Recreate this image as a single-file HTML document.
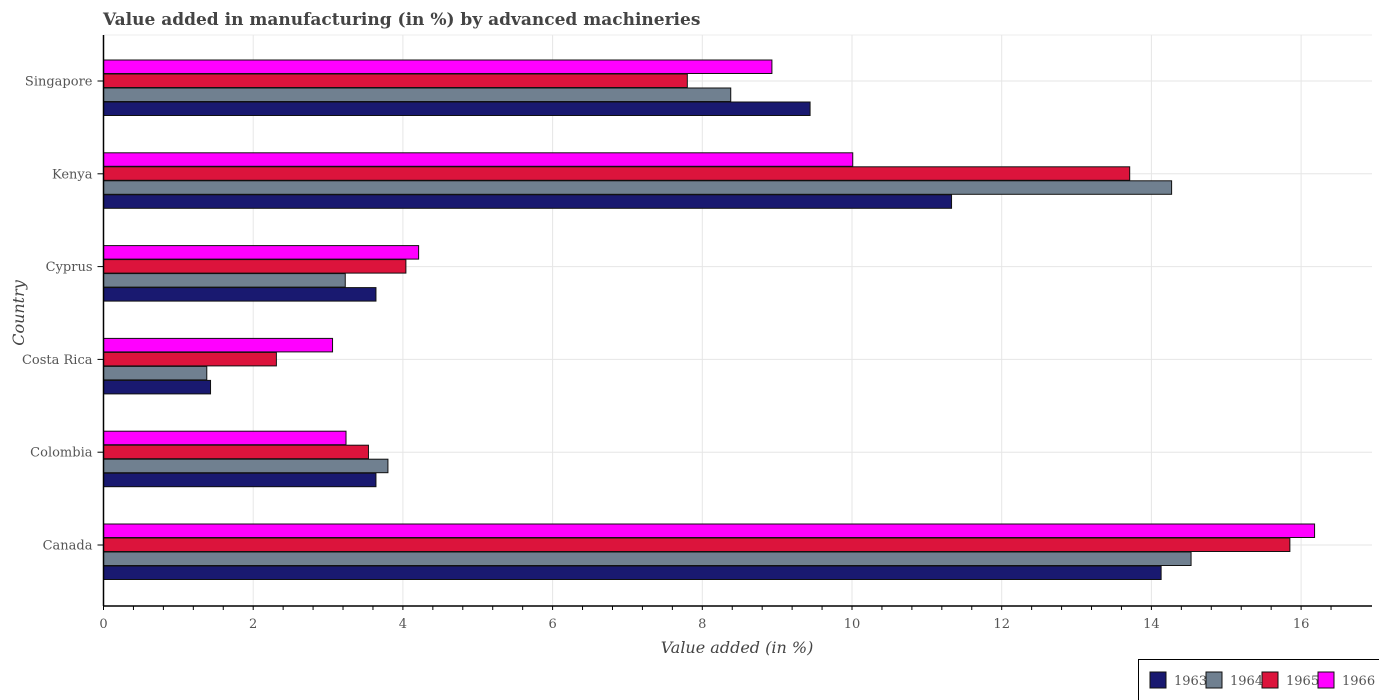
<!DOCTYPE html>
<html><head><meta charset="utf-8"><style>
body{margin:0;background:#fff;}
svg{display:block;font-family:"DejaVu Serif","Liberation Serif",serif;}
</style></head><body>
<svg id="chart" width="1379" height="700">
<text x="103" y="25" font-size="17" font-weight="bold" fill="#444">Value added in manufacturing (in %) by advanced machineries</text>
<g id="grid"></g>
<g id="bars"></g>
<g id="axes"></g>
<text x="737" y="653" font-size="16" font-style="italic" fill="#444" text-anchor="middle">Value added (in %)</text>
<text transform="translate(24,313) rotate(-90)" font-size="16" font-style="italic" fill="#444" text-anchor="middle">Country</text>
<g>
<rect x="1138.5" y="659.5" width="245" height="45" fill="#fff" stroke="#000" stroke-width="1"/>
<g id="legend"></g>
</g>
</svg>
<script>
const categories=["Singapore","Kenya","Cyprus","Costa Rica","Colombia","Canada"];
const years=["1966","1965","1964","1963"];
const s1966=[8.93,10.01,4.21,3.06,3.24,16.18];
const s1965=[7.80,13.71,4.04,2.31,3.54,15.85];
const s1964=[8.38,14.27,3.23,1.38,3.80,14.53];
const s1963=[9.44,11.33,3.64,1.43,3.64,14.13];
const xTicks=[0,2,4,6,8,10,12,14,16];
const colors={"1963":"#191970","1964":"#708090","1965":"#dc143c","1966":"#ff00ff"};
const NS="http://www.w3.org/2000/svg";
const X0=103.5,XS=74.85,PT=35,AXY=606,XR=1372;
const xs=v=>X0+v*XS;
const yc=i=>81+i*92.8;
function mk(t,a,p){const e=document.createElementNS(NS,t);for(const k in a)e.setAttribute(k,a[k]);p.appendChild(e);return e;}
const grid=document.getElementById('grid'),bars=document.getElementById('bars'),axes=document.getElementById('axes'),leg=document.getElementById('legend');
mk('line',{x1:X0,y1:PT,x2:XR,y2:PT,stroke:'#eee'},grid);
xTicks.forEach(t=>{if(t>0){const g=mk('line',{x1:xs(t),y1:PT,x2:xs(t),y2:AXY,stroke:'#e6e6e6'},grid);

}});
categories.forEach((c,i)=>{const g=mk('line',{x1:X0,y1:yc(i),x2:XR,y2:yc(i),stroke:'#e6e6e6'},grid);

});
const series=[s1966,s1965,s1964,s1963];
categories.forEach((c,i)=>{series.forEach((s,j)=>{const y=yc(i)-21+j*14;
const r=mk('rect',{x:X0,y:y,width:xs(s[i])-X0,height:13.5,fill:colors[years[j]],stroke:'#111','stroke-width':1},bars);

});});
mk('line',{x1:X0,y1:PT,x2:X0,y2:AXY,stroke:'#000','stroke-width':1.5},axes);
mk('line',{x1:X0,y1:AXY,x2:XR,y2:AXY,stroke:'#000','stroke-width':1.5},axes);
for(let v=0;v<=16.8;v+=0.4){mk('line',{x1:xs(v),y1:AXY,x2:xs(v),y2:AXY+4,stroke:'#000'},axes);}
xTicks.forEach(t=>{const e=mk('text',{x:xs(t),y:AXY+22,'font-size':13,fill:'#555','text-anchor':'middle'},axes);e.textContent=t;

});
categories.forEach((c,i)=>{mk('line',{x1:X0-6,y1:yc(i),x2:X0,y2:yc(i),stroke:'#000'},axes);
const e=mk('text',{x:X0-11,y:yc(i)+4.5,'font-size':13,fill:'#555','text-anchor':'end'},axes);e.textContent=c;

});
["1963","1964","1965","1966"].forEach((y,k)=>{const x=1150+k*56;
const r=mk('rect',{x:x,y:672,width:16,height:16,fill:colors[y],stroke:'#111'},leg);


const t=mk('text',{x:x+24,y:685,'font-size':13,fill:'#555'},leg);t.textContent=y;

});
</script>
</body></html>
